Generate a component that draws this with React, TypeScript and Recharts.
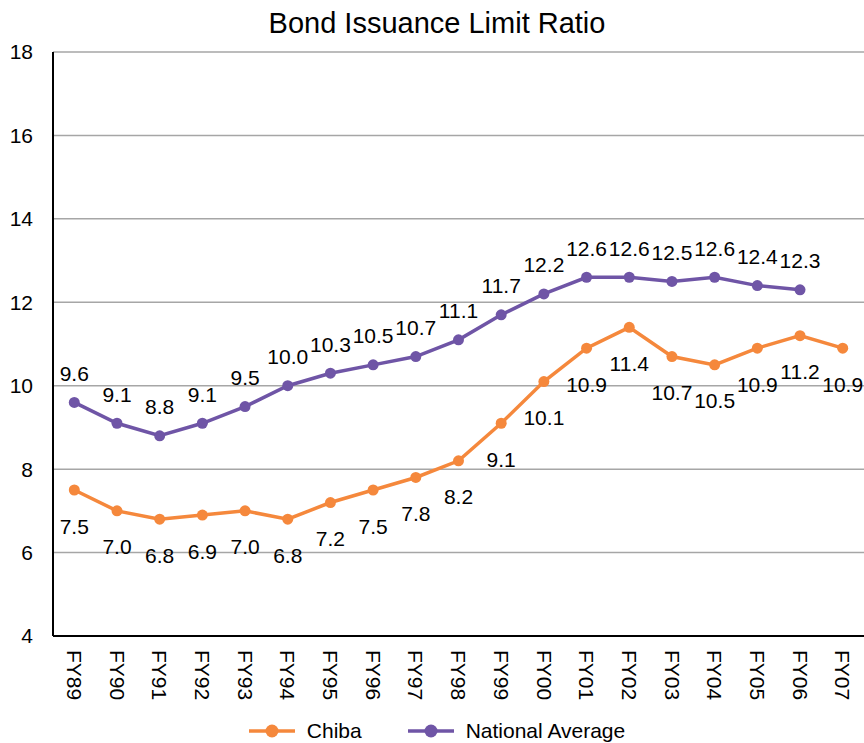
import * as React from 'react'
import { LineChart, Line, XAxis, YAxis, CartesianGrid, Legend, LabelList } from 'recharts'

const years = ['FY89', 'FY90', 'FY91', 'FY92', 'FY93', 'FY94', 'FY95', 'FY96', 'FY97', 'FY98', 'FY99', 'FY00', 'FY01', 'FY02', 'FY03', 'FY04', 'FY05', 'FY06', 'FY07']
const chiba = [7.5, 7.0, 6.8, 6.9, 7.0, 6.8, 7.2, 7.5, 7.8, 8.2, 9.1, 10.1, 10.9, 11.4, 10.7, 10.5, 10.9, 11.2, 10.9]
const national: (number | null)[] = [9.6, 9.1, 8.8, 9.1, 9.5, 10.0, 10.3, 10.5, 10.7, 11.1, 11.7, 12.2, 12.6, 12.6, 12.5, 12.6, 12.4, 12.3, null]
const yTicks = [4, 6, 8, 10, 12, 14, 16, 18]

const ORANGE = '#F5883C'
const PURPLE = '#6F55A6'
const FONT = '"Liberation Sans", Arial, sans-serif'

const data = years.map((year, i) => ({ year, chiba: chiba[i], national: national[i] }))

// rotated category labels, reading top to bottom
const XTick = (props: any) => {
  const { x, y, payload } = props
  const ty = y + 6
  return (
    <text
      x={x}
      y={ty}
      dy="0.35em"
      transform={`rotate(90, ${x}, ${ty})`}
      textAnchor="start"
      fontSize={21}
      fontFamily={FONT}
      fill="#000"
    >
      {payload.value}
    </text>
  )
}

const makeLabel = (offset: number) => (props: any) => {
  const { x, y, value } = props
  if (value == null) return null
  return (
    <text
      x={x}
      y={y + offset}
      textAnchor="middle"
      dominantBaseline="central"
      fontSize={21}
      fontFamily={FONT}
      fill="#000"
    >
      {Number(value).toFixed(1)}
    </text>
  )
}

const LegendContent = () => {
  const items = [
    { name: 'Chiba', color: ORANGE },
    { name: 'National Average', color: PURPLE },
  ]
  return (
    <div style={{ display: 'flex', justifyContent: 'center', alignItems: 'center', fontFamily: FONT, fontSize: 21, paddingLeft: 10 }}>
      {items.map((it, i) => (
        <div key={it.name} style={{ display: 'flex', alignItems: 'center', marginLeft: i ? 46 : 0 }}>
          <svg width={46} height={16} style={{ marginRight: 12 }}>
            <line x1={0} y1={8} x2={46} y2={8} stroke={it.color} strokeWidth={3.5} />
            <circle cx={23} cy={8} r={6.5} fill={it.color} />
          </svg>
          <span>{it.name}</span>
        </div>
      ))}
    </div>
  )
}

export default function App() {
  return (
    <div style={{ position: 'absolute', left: 0, top: 0, width: 864, height: 743, background: '#fff' }}>
      <div
        style={{
          position: 'absolute',
          top: 6,
          left: 0,
          width: 874,
          textAlign: 'center',
          fontFamily: FONT,
          fontSize: 29,
          lineHeight: '34px',
        }}
      >
        Bond Issuance Limit Ratio
      </div>
      <LineChart width={864} height={743} data={data} margin={{ top: 52, right: 0, left: 0, bottom: 0 }}>
        <CartesianGrid horizontal vertical={false} stroke="#A6A6A6" strokeWidth={1.5} />
        <XAxis
          dataKey="year"
          height={83}
          interval={0}
          padding={{ left: 21.3, right: 21.3 }}
          tickLine={false}
          axisLine={{ stroke: '#000', strokeWidth: 2 }}
          tick={<XTick />}
        />
        <YAxis
          width={53}
          domain={[4, 18]}
          ticks={yTicks}
          interval={0}
          tickLine={false}
          tickMargin={14}
          axisLine={{ stroke: '#000', strokeWidth: 2 }}
          tick={{ fontSize: 21, fontFamily: FONT, fill: '#000' }}
        />
        <Legend verticalAlign="bottom" height={24} content={<LegendContent />} />
        <Line
          dataKey="chiba"
          name="Chiba"
          stroke={ORANGE}
          strokeWidth={3.5}
          dot={{ r: 5.5, fill: ORANGE, stroke: ORANGE, strokeWidth: 0 }}
          activeDot={false}
          isAnimationActive={false}
        >
          <LabelList dataKey="chiba" content={makeLabel(36)} />
        </Line>
        <Line
          dataKey="national"
          name="National Average"
          stroke={PURPLE}
          strokeWidth={3.5}
          dot={{ r: 5.5, fill: PURPLE, stroke: PURPLE, strokeWidth: 0 }}
          activeDot={false}
          isAnimationActive={false}
        >
          <LabelList dataKey="national" content={makeLabel(-29)} />
        </Line>
      </LineChart>
    </div>
  )
}
